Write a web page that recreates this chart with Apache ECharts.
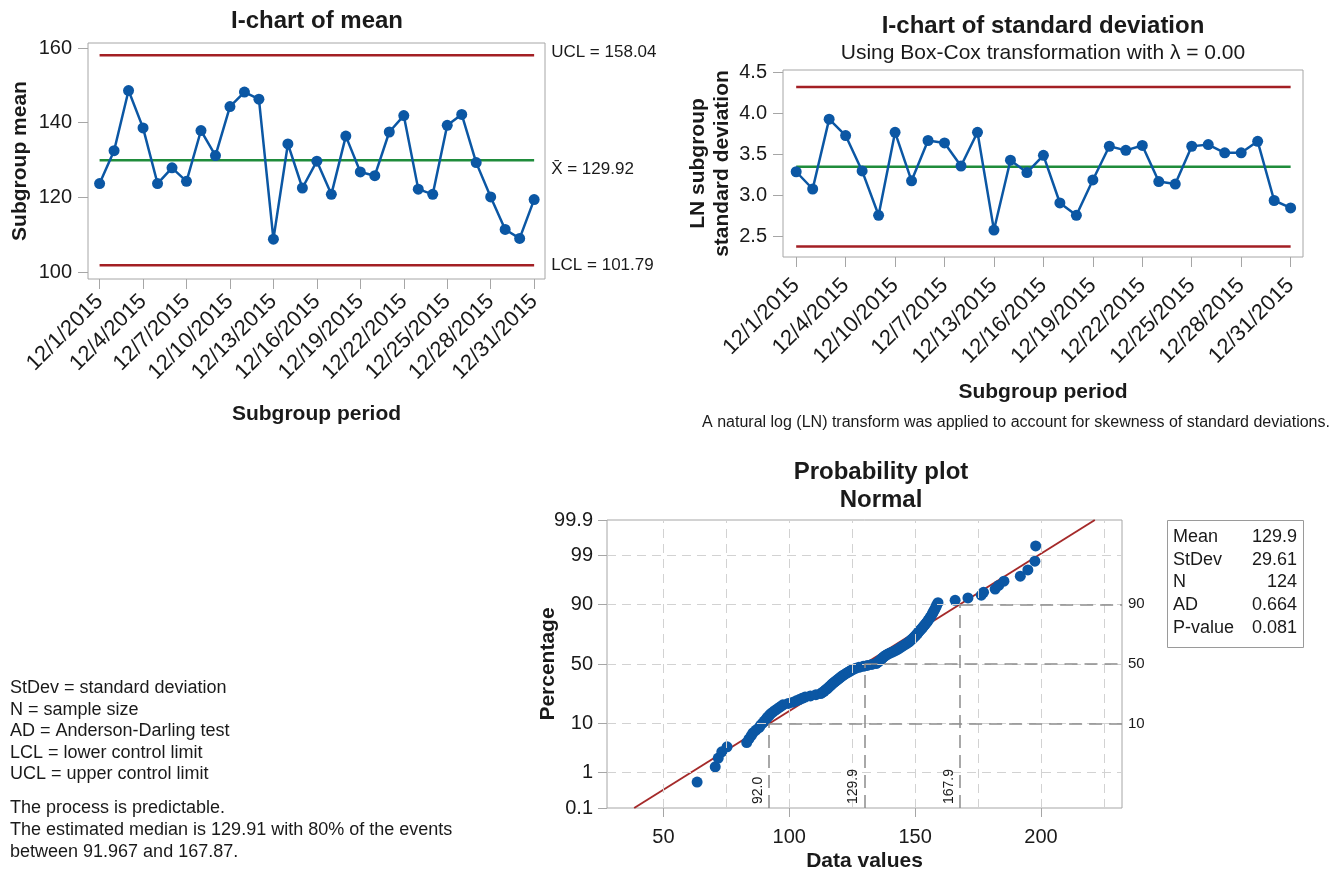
<!DOCTYPE html>
<html>
<head>
<meta charset="utf-8">
<title>I-charts and probability plot</title>
<script src="https://cdn.jsdelivr.net/npm/echarts@6/dist/echarts.min.js"></script>
<style>
  html, body { margin: 0; padding: 0; background: #fff; }
  #main { width: 1338px; height: 870px; }
</style>
</head>
<body>
<div id="main"></div>
<script>
// ---- I-chart of mean ----
var meanDateLabels = ['12/1/2015', '12/4/2015', '12/7/2015', '12/10/2015', '12/13/2015', '12/16/2015',
  '12/19/2015', '12/22/2015', '12/25/2015', '12/28/2015', '12/31/2015'];
var subgroupMeans = [123.7, 132.5, 148.6, 138.6, 123.7, 127.9, 124.3, 137.9, 131.2, 144.3, 148.2,
  146.3, 108.8, 134.3, 122.5, 129.7, 120.8, 136.4, 126.8, 125.8, 137.5, 141.9, 122.2, 120.8,
  139.3, 142.2, 129.3, 120.1, 111.4, 109.0, 119.4];
var meanUCL = 158.04, meanCL = 129.92, meanLCL = 101.79;
var meanTicks = [100, 120, 140, 160];

// ---- I-chart of standard deviation (LN) ----
var sdDateLabels = ['12/1/2015', '12/4/2015', '12/10/2015', '12/7/2015', '12/13/2015', '12/16/2015',
  '12/19/2015', '12/22/2015', '12/25/2015', '12/28/2015', '12/31/2015'];
var lnSubgroupSd = [3.29, 3.08, 3.93, 3.73, 3.30, 2.76, 3.77, 3.18, 3.67, 3.64, 3.36, 3.77, 2.58,
  3.43, 3.28, 3.49, 2.91, 2.76, 3.19, 3.60, 3.55, 3.61, 3.17, 3.14, 3.60, 3.62, 3.52, 3.52,
  3.66, 2.94, 2.85];
var sdUCL = 4.32, sdCL = 3.35, sdLCL = 2.38;
var sdTicks = [2.5, 3.0, 3.5, 4.0, 4.5];
var labelStep = 3;

// ---- Probability plot (sorted data values) ----
var dataValues = [63.4, 70.6, 71.8, 73.2, 75.3,
  83.1, 84.0, 84.9, 85.6, 86.8, 88.0,
  88.6, 89.4, 90.1, 90.8, 91.3,
  92.0, 92.6, 93.5, 94.2,
  95.1, 95.9, 96.8, 97.5,
  99.6, 101.5, 102.8, 104.0, 105.1, 106.3,
  108.4, 110.6, 112.5,
  113.2, 113.8, 114.3, 114.9, 115.4, 115.8, 116.3, 116.7, 117.1,
  117.6, 118.1, 118.6, 119.1, 119.6, 120.1, 120.6, 121.1, 121.7,
  122.3, 122.9, 123.5, 124.2, 124.8, 125.6, 126.5,
  127.7, 129.4, 131.0, 132.8, 134.5,
  135.0, 135.5, 135.9, 136.3, 136.7, 137.1, 137.5, 138.0, 138.5,
  139.2, 140.0, 140.9, 141.7, 142.5,
  143.2, 143.8, 144.4, 145.0, 145.6, 146.3, 146.9, 147.5,
  148.0, 148.4, 148.9, 149.3, 149.8, 150.2, 150.6, 151.0, 151.4, 151.8, 152.2,
  152.7, 153.1, 153.5, 153.9, 154.4, 154.8, 155.2,
  155.6, 156.0, 156.4, 156.8, 157.1, 157.5,
  157.9, 158.3, 158.6, 159.1,
  165.9, 171.0, 176.3, 177.2, 181.8, 183.2, 185.3, 191.8, 194.8, 197.6, 197.9];
var pctTicks = [0.1, 1, 10, 50, 90, 99, 99.9];
var pctGrid = [1, 10, 50, 90, 99];
var xTicks = [50, 100, 150, 200];
var xGrid = [50, 75, 100, 125, 150, 175, 200, 225];
var fitMean = 129.9, fitStDev = 29.61;
var refPercents = [10, 50, 90];
var refValues = [92.0, 129.9, 167.9];
var statNames = ['Mean', 'StDev', 'N', 'AD', 'P-value'];
var statValues = ['129.9', '29.61', '124', '0.664', '0.081'];

var notes = ['StDev = standard deviation', 'N = sample size', 'AD = Anderson-Darling test',
  'LCL = lower control limit', 'UCL = upper control limit'];
var conclusion = ['The process is predictable.',
  'The estimated median is 129.91 with 80% of the events',
  'between 91.967 and 167.87.'];

var FONT = "'Liberation Sans', Arial, sans-serif";
var BLUE = '#0b57a4', RED = '#a31f24', GREEN = '#1f8c3b', GRAY = '#a6a6a6', INK = '#1a1a1a';

// inverse standard normal (Acklam)
function invNorm(p) {
  var a = [-3.969683028665376e+01, 2.209460984245205e+02, -2.759285104469687e+02, 1.383577518672690e+02, -3.066479806614716e+01, 2.506628277459239e+00];
  var b = [-5.447609879822406e+01, 1.615858368580409e+02, -1.556989798598866e+02, 6.680131188771972e+01, -1.328068155288572e+01];
  var c = [-7.784894002430293e-03, -3.223964580411365e-01, -2.400758277161838e+00, -2.549732539343734e+00, 4.374664141464968e+00, 2.938163982698783e+00];
  var d = [7.784695709041462e-03, 3.224671290700398e-01, 2.445134137142996e+00, 3.754408661907416e+00];
  var pl = 0.02425, q, r;
  if (p < pl) {
    q = Math.sqrt(-2 * Math.log(p));
    return (((((c[0] * q + c[1]) * q + c[2]) * q + c[3]) * q + c[4]) * q + c[5]) / ((((d[0] * q + d[1]) * q + d[2]) * q + d[3]) * q + 1);
  }
  if (p > 1 - pl) {
    q = Math.sqrt(-2 * Math.log(1 - p));
    return -(((((c[0] * q + c[1]) * q + c[2]) * q + c[3]) * q + c[4]) * q + c[5]) / ((((d[0] * q + d[1]) * q + d[2]) * q + d[3]) * q + 1);
  }
  q = p - 0.5; r = q * q;
  return (((((a[0] * r + a[1]) * r + a[2]) * r + a[3]) * r + a[4]) * r + a[5]) * q / (((((b[0] * r + b[1]) * r + b[2]) * r + b[3]) * r + b[4]) * r + 1);
}

var nPts = subgroupMeans.length;
var tickIdx = meanDateLabels.map(function (d, i) { return i * labelStep; });
var zMin = invNorm(pctTicks[0] / 100), zMax = invNorm(pctTicks[pctTicks.length - 1] / 100);
var probXMin = 27.6, probXMax = 232.2;
var nData = dataValues.length;
var probPoints = dataValues.map(function (v, i) { return [v, invNorm((i + 1 - 0.3) / (nData + 0.4))]; });
var zTicks = pctTicks.map(function (p) { return invNorm(p / 100); });

function pctLabel(v) {
  for (var i = 0; i < zTicks.length; i++) if (Math.abs(zTicks[i] - v) < 1e-6) return String(pctTicks[i]);
  return '';
}

function indexAxis(grid, labels, margin) {
  return {
    type: 'value', gridIndex: grid, min: -0.8, max: 30.75,
    axisLine: { show: false, onZero: false },
    axisTick: { inside: false, length: 10, lineStyle: { color: GRAY }, customValues: tickIdx },
    axisLabel: {
      customValues: tickIdx, rotate: 45, margin: margin, fontSize: 22, color: INK, fontFamily: FONT,
      formatter: function (v) { return labels[Math.round(v / labelStep)]; }
    },
    splitLine: { show: false },
    name: 'Subgroup period', nameLocation: 'middle', nameGap: 125,
    nameTextStyle: { fontSize: 21, fontWeight: 'bold', color: INK, fontFamily: FONT }
  };
}

function limitLine(x, y, value, color, label, dy) {
  var s = {
    type: 'line', xAxisIndex: x, yAxisIndex: y, symbol: 'none', silent: true, z: 2,
    data: [[0, value], [nPts - 1, value]],
    lineStyle: { color: color, width: 2.5 }
  };
  if (label) {
    s.endLabel = { show: true, formatter: label, distance: 17, offset: [0, dy || 0],
      fontSize: 17, color: INK, fontFamily: FONT };
  }
  return s;
}

function txt(x, y, text, size, weight, align) {
  return {
    type: 'text', x: x, y: y, silent: true,
    style: { text: text, fontSize: size, fontWeight: weight || 'normal', fontFamily: FONT, fill: INK,
      align: align || 'left', textAlign: align || 'left', verticalAlign: 'middle', textVerticalAlign: 'middle' }
  };
}

var graphics = [
  txt(317, 21, 'I-chart of mean', 24, 'bold', 'center'),
  txt(1043, 26, 'I-chart of standard deviation', 24, 'bold', 'center'),
  txt(1043, 53, 'Using Box-Cox transformation with \u03bb = 0.00', 21, 'normal', 'center'),
  txt(1016, 423, 'A natural log (LN) transform was applied to account for skewness of standard deviations.', 16, 'normal', 'center'),
  txt(881, 472, 'Probability plot', 24, 'bold', 'center'),
  txt(881, 500, 'Normal', 24, 'bold', 'center'),
  { type: 'rect', shape: { x: 1167.5, y: 520.5, width: 136, height: 127 }, silent: true,
    style: { fill: 'none', stroke: '#9a9a9a', lineWidth: 1 } }
];
statNames.forEach(function (s, i) {
  graphics.push(txt(1173, 537 + i * 22.7, s, 18, 'normal', 'left'));
  graphics.push(txt(1297, 537 + i * 22.7, statValues[i], 18, 'normal', 'right'));
});
notes.forEach(function (s, i) { graphics.push(txt(10, 688 + i * 21.6, s, 18)); });
conclusion.forEach(function (s, i) { graphics.push(txt(10, 808 + i * 22, s, 18)); });

// probability plot grid and reference lines
var gridMarks = xGrid.map(function (v) { return { xAxis: v }; })
  .concat(pctGrid.map(function (p) { return { yAxis: invNorm(p / 100) }; }));
var refMarks = [];
refValues.forEach(function (v, k) {
  var z = invNorm(refPercents[k] / 100);
  refMarks.push([
    { coord: [v, zMin], label: { show: true, formatter: v.toFixed(1), position: 'insideStartTop',
      distance: 4, fontSize: 14, color: INK, fontFamily: FONT } },
    { coord: [v, z] }
  ]);
  refMarks.push([
    { coord: [v, z], label: { show: true, formatter: String(refPercents[k]), position: 'end',
      distance: 6, fontSize: 15, color: INK, fontFamily: FONT } },
    { coord: [probXMax, z] }
  ]);
});

var option = {
  animation: false,
  backgroundColor: '#fff',
  textStyle: { fontFamily: FONT },
  graphic: graphics,
  grid: [
    { left: 88, top: 43, width: 457, height: 236, show: true, borderColor: GRAY, borderWidth: 1,
      outerBoundsMode: 'none' },
    { left: 783, top: 70, width: 520, height: 187, show: true, borderColor: GRAY, borderWidth: 1,
      outerBoundsMode: 'none' },
    { left: 607, top: 520, width: 515, height: 288, show: true, borderColor: GRAY, borderWidth: 1,
      outerBoundsMode: 'none' }
  ],
  xAxis: [
    indexAxis(0, meanDateLabels, 19),
    indexAxis(1, sdDateLabels, 25),
    {
      type: 'value', gridIndex: 2, min: probXMin, max: probXMax,
      axisLine: { show: false, onZero: false },
      axisTick: { inside: false, length: 9, lineStyle: { color: GRAY }, customValues: xTicks },
      axisLabel: { customValues: xTicks, margin: 19, fontSize: 20, color: INK, fontFamily: FONT },
      splitLine: { show: false },
      name: 'Data values', nameLocation: 'middle', nameGap: 43,
      nameTextStyle: { fontSize: 21, fontWeight: 'bold', color: INK, fontFamily: FONT }
    }
  ],
  yAxis: [
    {
      type: 'value', gridIndex: 0, min: 98.13, max: 161.34,
      axisLine: { show: false, onZero: false },
      axisTick: { inside: false, length: 10, lineStyle: { color: GRAY }, customValues: meanTicks },
      axisLabel: { customValues: meanTicks, margin: 16, fontSize: 20, color: INK, fontFamily: FONT },
      splitLine: { show: false },
      name: 'Subgroup mean', nameLocation: 'middle', nameGap: 57,
      nameTextStyle: { fontSize: 21, fontWeight: 'bold', color: INK, fontFamily: FONT }
    },
    {
      type: 'value', gridIndex: 1, min: 2.2525, max: 4.528,
      axisLine: { show: false, onZero: false },
      axisTick: { inside: false, length: 10, lineStyle: { color: GRAY }, customValues: sdTicks },
      axisLabel: { customValues: sdTicks, margin: 16, fontSize: 20, color: INK, fontFamily: FONT,
        formatter: function (v) { return v.toFixed(1); } },
      splitLine: { show: false },
      name: 'LN subgroup\nstandard deviation', nameLocation: 'middle', nameGap: 49,
      nameTextStyle: { fontSize: 21, fontWeight: 'bold', color: INK, fontFamily: FONT, lineHeight: 24 }
    },
    {
      type: 'value', gridIndex: 2, min: zMin, max: zMax,
      axisLine: { show: false, onZero: false },
      axisTick: { inside: false, length: 9, lineStyle: { color: GRAY }, customValues: zTicks },
      axisLabel: { customValues: zTicks, margin: 14, fontSize: 20, color: INK, fontFamily: FONT,
        formatter: pctLabel },
      splitLine: { show: false },
      name: 'Percentage', nameLocation: 'middle', nameGap: 48, nameMoveOverlap: false,
      nameTextStyle: { fontSize: 21, fontWeight: 'bold', color: INK, fontFamily: FONT }
    }
  ],
  series: [
    limitLine(0, 0, meanUCL, RED, 'UCL = 158.04', -3),
    limitLine(0, 0, meanCL, GREEN, 'X\u0304 = 129.92', 9),
    limitLine(0, 0, meanLCL, RED, 'LCL = 101.79', 0),
    {
      type: 'line', xAxisIndex: 0, yAxisIndex: 0, z: 3,
      data: subgroupMeans.map(function (v, i) { return [i, v]; }),
      symbol: 'circle', symbolSize: 11, showAllSymbol: true,
      lineStyle: { color: BLUE, width: 2.5 }, itemStyle: { color: BLUE }
    },
    limitLine(1, 1, sdUCL, RED),
    limitLine(1, 1, sdCL, GREEN),
    limitLine(1, 1, sdLCL, RED),
    {
      type: 'line', xAxisIndex: 1, yAxisIndex: 1, z: 3,
      data: lnSubgroupSd.map(function (v, i) { return [i, v]; }),
      symbol: 'circle', symbolSize: 11, showAllSymbol: true,
      lineStyle: { color: BLUE, width: 2.5 }, itemStyle: { color: BLUE }
    },
    {
      type: 'line', xAxisIndex: 2, yAxisIndex: 2, data: [], z: 1, silent: true,
      markLine: { silent: true, symbol: ['none', 'none'], animation: false, label: { show: false },
        lineStyle: { color: '#d2d2d2', type: [9, 6], width: 1 }, data: gridMarks }
    },
    {
      type: 'line', xAxisIndex: 2, yAxisIndex: 2, data: [], z: 2, silent: true,
      markLine: { silent: true, symbol: ['none', 'none'], animation: false, label: { show: false },
        lineStyle: { color: '#8c8c8c', type: [13, 7], width: 1.5 }, data: refMarks }
    },
    {
      type: 'line', xAxisIndex: 2, yAxisIndex: 2, z: 3, symbol: 'none', silent: true,
      data: [[fitMean + zMin * fitStDev, zMin], [fitMean + zMax * fitStDev, zMax]],
      lineStyle: { color: '#a52a2a', width: 2 }
    },
    {
      type: 'scatter', xAxisIndex: 2, yAxisIndex: 2, z: 4,
      data: probPoints, symbolSize: 11, itemStyle: { color: BLUE, opacity: 1 }
    }
  ]
};

var chart = echarts.init(document.getElementById('main'));
chart.setOption(option);
</script>
</body>
</html>
